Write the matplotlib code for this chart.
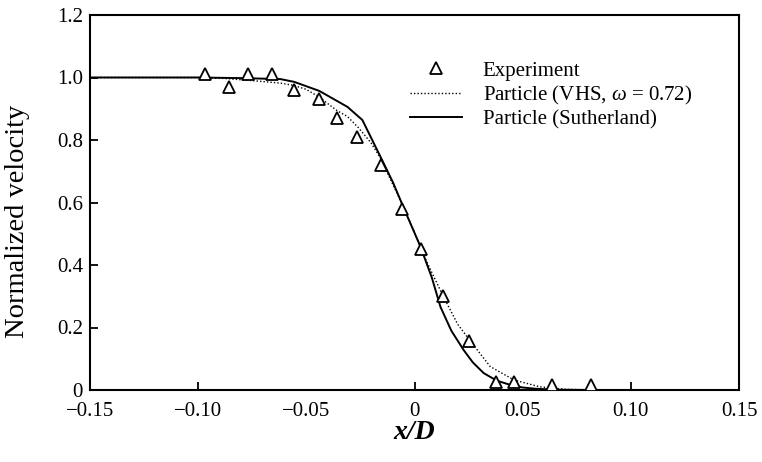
import numpy as np
import matplotlib
matplotlib.use("Agg")
import matplotlib.pyplot as plt

plt.rcParams['font.family'] = ['Liberation Serif', 'DejaVu Serif']
plt.rcParams['mathtext.fontset'] = 'custom'
plt.rcParams['mathtext.rm'] = 'Liberation Serif'
plt.rcParams['mathtext.it'] = 'Liberation Serif:italic'

# experiment (triangles)
x_exp = [-0.0968, -0.0856, -0.0769, -0.0657, -0.0556, -0.044, -0.036, -0.0264,
         -0.0153, -0.0056, 0.0032, 0.0134, 0.025, 0.0375, 0.0458, 0.0634,
         0.0815]
v_exp = [1.01, 0.97, 1.01, 1.01, 0.96, 0.93, 0.87, 0.81,
         0.72, 0.58, 0.45, 0.30, 0.157, 0.026, 0.026, 0.015,
         0.015]

# particle, VHS omega = 0.72 (dotted)
x_vhs = [-0.15, -0.10, -0.088, -0.075, -0.062, -0.056, -0.05, -0.044, -0.036,
         -0.031, -0.026, -0.02, -0.0157, -0.011, -0.005, 0.0, 0.005, 0.0134,
         0.02, 0.026, 0.035, 0.046, 0.058, 0.07, 0.09, 0.15]
v_vhs = [1.0, 1.0, 0.997, 0.99, 0.982, 0.975, 0.962, 0.937, 0.895,
         0.875, 0.84, 0.79, 0.742, 0.672, 0.585, 0.505, 0.42, 0.298,
         0.21, 0.155, 0.075, 0.032, 0.01, 0.002, 0.0, 0.0]

# particle, Sutherland (solid)
x_suth = [-0.15, -0.10, -0.08, -0.062, -0.0556, -0.044, -0.031, -0.0241,
          -0.0157, -0.01, -0.0032, 0.0028, 0.008, 0.012, 0.017, 0.0227,
          0.027, 0.032, 0.038, 0.044, 0.05, 0.056, 0.065, 0.08, 0.15]
v_suth = [1.0, 1.0, 0.998, 0.995, 0.986, 0.957, 0.906, 0.864,
          0.746, 0.665, 0.554, 0.458, 0.36, 0.266, 0.19, 0.128,
          0.088, 0.054, 0.03, 0.017, 0.008, 0.004, 0.001, 0.0, 0.0]

fig = plt.figure(figsize=(7.62, 4.62), dpi=100)
ax = fig.add_axes([90/762, 1 - 390/462, 649/762, 375/462])

ax.plot(x_exp, v_exp, linestyle="none", marker="^", markersize=8,
        markerfacecolor="white", markeredgecolor="black", markeredgewidth=1.3,
        label="Experiment", zorder=3)
ax.plot(x_vhs, v_vhs, color="black", linestyle=(0, (1, 1.5)), linewidth=1.0,
        label=r"Particle (VHS, $\omega$ = 0.72)")
ax.plot(x_suth, v_suth, color="black", linestyle="-", linewidth=1.4,
        label="Particle (Sutherland)")

ax.set_xlim(-0.15, 0.15)
ax.set_ylim(0, 1.2)

# ticks with marks at 0.1 steps, labels every 0.05
ax.set_xticks([-0.10, 0.0, 0.10], ["\u22120.10", "0", "0.10"])
ax.set_xticks([-0.15, -0.05, 0.05, 0.15],
              ["\u22120.15", "\u22120.05", "0.05", "0.15"], minor=True)
ax.set_yticks([0, 0.2, 0.4, 0.6, 0.8, 1.0, 1.2],
              ["0", "0.2", "0.4", "0.6", "0.8", "1.0", "1.2"])
ax.tick_params(axis="x", which="major", direction="in", length=6, width=1.3,
               pad=9, labelsize=15)
ax.tick_params(axis="x", which="minor", length=0, pad=9, labelsize=15)
ax.tick_params(axis="y", direction="in", length=6, width=1.3, pad=5,
               labelsize=15)
for s in ax.spines.values():
    s.set_linewidth(1.5)

ax.set_xlabel("x/D", fontsize=20, fontstyle="italic", fontweight="bold")
ax.xaxis.set_label_coords(0.5, -0.08)
ax.set_ylabel("Normalized velocity", fontsize=20.5)
ax.yaxis.set_label_coords(-0.092, 0.45)

ax.legend(loc="upper left", bbox_to_anchor=(0.493, 0.877), frameon=False,
          fontsize=15, handlelength=2.5, handletextpad=1.0, labelspacing=0.15,
          borderpad=0, borderaxespad=0)

fig.savefig("out.png", dpi=100)
